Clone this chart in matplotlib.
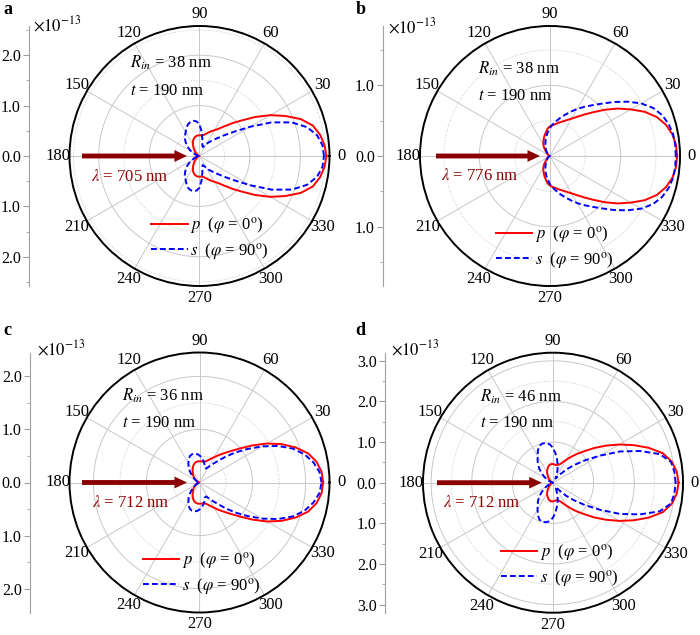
import numpy as np
import matplotlib
matplotlib.use('Agg')
import matplotlib.pyplot as plt
from matplotlib.patches import FancyArrowPatch
from matplotlib.ticker import MultipleLocator, FuncFormatter

plt.rcParams['font.family'] = ['Liberation Serif', 'DejaVu Serif']
plt.rcParams['mathtext.fontset'] = 'stix'

# angles (deg) at which the upper half of each pattern was read; lower half is the mirror
angles = list(range(0, 185, 5))

panel_labels = ['a', 'b', 'c', 'd']
r_in = [38, 38, 36, 46]
thickness = [190, 190, 190, 190]
wavelengths = [705, 776, 712, 712]
r_max = [2.58, 1.84, 2.45, 3.2]

# p polarisation (phi = 0), x1e-13
red_a = [2.52, 2.49, 2.43, 2.33, 2.14, 1.88, 1.62, 1.35, 1.10, 0.92,
         0.77, 0.66, 0.59, 0.54, 0.49, 0.45, 0.42, 0.41, 0.41, 0.41,
         0.40, 0.38, 0.35, 0.31, 0.26, 0.21, 0.17, 0.13, 0.10, 0.07,
         0.05, 0.04, 0.03, 0.02, 0.01, 0.005, 0.0]
red_b = [1.80, 1.79, 1.76, 1.70, 1.61, 1.48, 1.32, 1.17, 1.02, 0.88,
         0.77, 0.68, 0.61, 0.56, 0.52, 0.49, 0.46, 0.44, 0.42, 0.39,
         0.34, 0.30, 0.26, 0.22, 0.19, 0.15, 0.10, 0.07, 0.05, 0.04,
         0.03, 0.02, 0.015, 0.01, 0.005, 0.002, 0.0]
red_c = [2.33, 2.31, 2.24, 2.12, 1.93, 1.71, 1.47, 1.22, 1.00, 0.84,
         0.72, 0.63, 0.55, 0.49, 0.44, 0.41, 0.40, 0.40, 0.40, 0.40,
         0.39, 0.37, 0.34, 0.30, 0.26, 0.22, 0.19, 0.16, 0.13, 0.10,
         0.07, 0.05, 0.03, 0.02, 0.01, 0.005, 0.0]
red_d = [3.09, 3.06, 2.97, 2.80, 2.51, 2.19, 1.88, 1.59, 1.33, 1.10,
         0.93, 0.78, 0.65, 0.55, 0.48, 0.45, 0.44, 0.45, 0.46, 0.46,
         0.45, 0.42, 0.38, 0.34, 0.29, 0.24, 0.19, 0.15, 0.12, 0.09,
         0.07, 0.05, 0.03, 0.02, 0.01, 0.005, 0.0]

# s polarisation (phi = 90)
blue_a = [2.47, 2.45, 2.37, 2.21, 1.95, 1.58, 1.16, 0.84, 0.64, 0.50,
          0.41, 0.34, 0.28, 0.22, 0.19, 0.22, 0.33, 0.48, 0.63, 0.69,
          0.71, 0.70, 0.67, 0.61, 0.55, 0.50, 0.45, 0.39, 0.33, 0.26,
          0.20, 0.14, 0.09, 0.05, 0.03, 0.01, 0.0]
blue_b = [1.78, 1.78, 1.77, 1.74, 1.69, 1.61, 1.49, 1.34, 1.19, 1.05,
          0.94, 0.85, 0.77, 0.69, 0.62, 0.56, 0.50, 0.45, 0.40, 0.34,
          0.29, 0.24, 0.19, 0.15, 0.12, 0.10, 0.07, 0.05, 0.04, 0.03,
          0.02, 0.015, 0.01, 0.005, 0.003, 0.001, 0.0]
blue_c = [2.30, 2.27, 2.18, 2.05, 1.87, 1.63, 1.36, 1.10, 0.88, 0.68,
          0.52, 0.42, 0.34, 0.29, 0.30, 0.36, 0.42, 0.47, 0.51, 0.54,
          0.55, 0.55, 0.53, 0.48, 0.42, 0.36, 0.29, 0.22, 0.16, 0.11,
          0.08, 0.05, 0.03, 0.02, 0.01, 0.005, 0.0]
blue_d = [3.02, 3.00, 2.95, 2.72, 2.28, 1.82, 1.33, 0.96, 0.67, 0.45,
          0.26, 0.15, 0.12, 0.18, 0.32, 0.45, 0.58, 0.72, 0.86, 0.95,
          0.99, 1.00, 0.97, 0.88, 0.76, 0.66, 0.57, 0.47, 0.37, 0.27,
          0.19, 0.12, 0.07, 0.04, 0.02, 0.005, 0.0]

reds = [red_a, red_b, red_c, red_d]
blues = [blue_a, blue_b, blue_c, blue_d]

W, H = 700, 635
R = 130  # polar radius in px

# layout (pixels)
centers = [(199.5, 156), (550, 156), (199.5, 482.5), (553, 482.7)]
axis_x = [29.3, 383.3, 30, 385]
letter_pos = [(3, 1), (356, 1), (3, 322), (355, 322)]
exp_pos = [(33, 31), (388, 33), (37, 355), (391, 355)]
rin_pos = [(130, 68, 95), (478, 74, 100), (122, 401, 426.7), (479.5, 401.7, 427.3)]
arrow_x = [(82, 187), (436, 540), (82, 187), (437, 541.7)]
lam_pos = [(91, 180.7), (440.7, 180), (92, 506.7), (443.3, 507.3)]
leg_pos = [(151, 215), (495.7, 224), (142.7, 550), (500.7, 542)]
solid_rings = [[1, 2], [1], [1, 2], [1, 2, 3]]
dotted_rings = [[0.5, 1.5, 2.5], [0.5, 1.5], [0.5, 1.5], [0.5, 1.5, 2.5]]

dark_red = '#8b0000'
grid_c = '#c8c8c8'


def fx(x):
    return x / W


def fy(y):
    return 1 - y / H


def mirror(vals):
    return vals + vals[::-1][1:]


theta_full = np.deg2rad(angles + [360 - a for a in angles[::-1][1:]])

fig = plt.figure(figsize=(7, 6.35), dpi=100)

for i in range(4):
    cx, cy = centers[i]
    rmax = r_max[i]

    ax = fig.add_axes([fx(cx - R), fy(cy + R), 2 * R / W, 2 * R / H], projection='polar')
    ax.set_ylim(0, rmax)
    ax.set_thetagrids(range(0, 360, 30), labels=[str(a) for a in range(0, 360, 30)], fontsize=12)
    ax.set_yticks([])
    ax.xaxis.grid(True, color=grid_c, lw=0.7)
    ax.xaxis.set_minor_locator(MultipleLocator(np.pi / 18))
    ax.tick_params(axis='x', which='major', direction='in', length=5, width=0.9, pad=1.5)
    ax.tick_params(axis='x', which='minor', direction='in', length=3, width=0.8)
    ax.spines['polar'].set_linewidth(1.4)

    ring = np.linspace(0, 2 * np.pi, 361)
    for r in solid_rings[i]:
        ax.plot(ring, np.full_like(ring, r), color=grid_c, lw=0.7, zorder=0.5)
    for r in dotted_rings[i]:
        ax.plot(ring, np.full_like(ring, r), color=grid_c, lw=0.7, ls=':', zorder=0.5)

    lp, = ax.plot(theta_full, mirror(reds[i]), color='red', lw=1.4)
    lb, = ax.plot(theta_full, mirror(blues[i]), color='blue', lw=1.4, ls=(0, (3, 1.6)))

    lx, ly = leg_pos[i]
    ax.legend([lp, lb], [r'$p$  ($\varphi$ = 0$^{\rm o}$)', r'$s$  ($\varphi$ = 90$^{\rm o}$)'],
              loc='upper left', bbox_to_anchor=(fx(lx), fy(ly)), bbox_transform=fig.transFigure,
              frameon=False, borderpad=0, borderaxespad=0, handlelength=2.2,
              handletextpad=0.15, labelspacing=0.3, fontsize=12)

    # radial scale drawn as a separate vertical axis on the left
    axr = fig.add_axes([fx(axis_x[i]), fy(cy + R), 0.0001, 2 * R / H])
    axr.set_ylim(-rmax, rmax)
    axr.set_xticks([])
    axr.patch.set_visible(False)
    for s in ['top', 'right', 'bottom']:
        axr.spines[s].set_visible(False)
    axr.spines['left'].set_color('#a0a0a0')
    axr.yaxis.set_major_locator(MultipleLocator(1))
    axr.yaxis.set_minor_locator(MultipleLocator(0.5))
    axr.yaxis.set_major_formatter(FuncFormatter(lambda v, p: f'{abs(v):.1f}'))
    axr.tick_params(axis='y', which='major', length=4, color='#a0a0a0', labelsize=11.5, pad=2)
    axr.tick_params(axis='y', which='minor', length=2.5, color='#a0a0a0')

    fig.text(fx(exp_pos[i][0]), fy(exp_pos[i][1]), r'$\times10^{-13}$', fontsize=12, va='baseline')
    fig.text(fx(letter_pos[i][0]), fy(letter_pos[i][1]), panel_labels[i], fontsize=13,
             weight='bold', va='top')

    x0, y1, y2 = rin_pos[i]
    fig.text(fx(x0), fy(y1), r'$R_{in}$ = %d nm' % r_in[i], fontsize=12, va='baseline')
    fig.text(fx(x0), fy(y2), r'$t$ = %d nm' % thickness[i], fontsize=12, va='baseline')

    a0, a1 = arrow_x[i]
    arr = FancyArrowPatch((fx(a0), fy(cy)), (fx(a1), fy(cy)), transform=fig.transFigure,
                          arrowstyle='simple,head_length=9,head_width=8.5,tail_width=3.5',
                          color=dark_red, lw=0, shrinkA=0, shrinkB=0)
    fig.add_artist(arr)
    fig.text(fx(lam_pos[i][0]), fy(lam_pos[i][1]), r'$\lambda$ = %d nm' % wavelengths[i],
             fontsize=12, va='baseline', color=dark_red)

fig.savefig('out.png', dpi=100)
